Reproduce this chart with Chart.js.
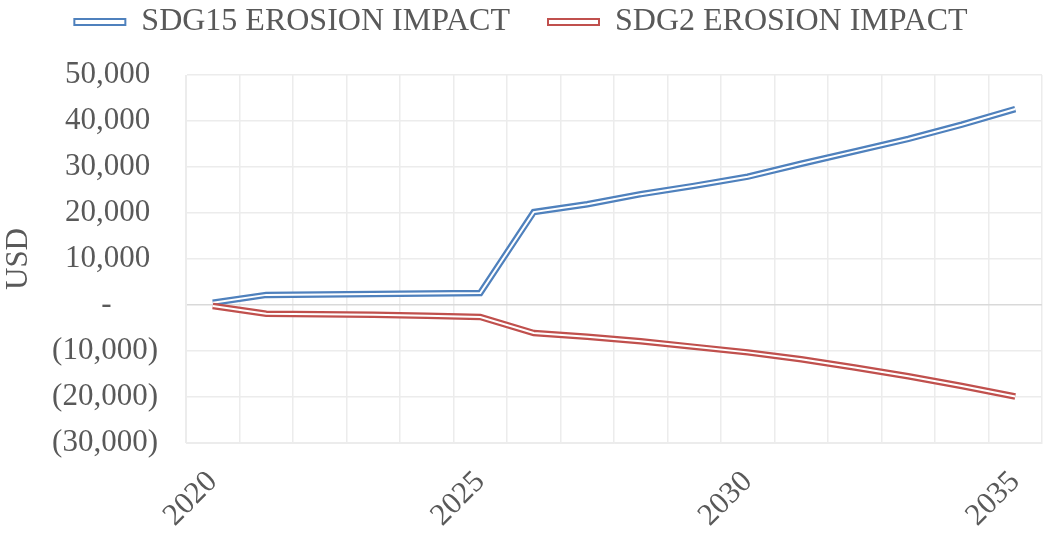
<!DOCTYPE html>
<html>
<head>
<meta charset="utf-8">
<script src="https://cdn.jsdelivr.net/npm/chart.js@4"></script>
<style>
  html, body { margin: 0; padding: 0; background: #fff; }
  #wrap { width: 1045px; height: 534px; }
</style>
</head>
<body>
<div id="wrap"><canvas id="chart"></canvas></div>
<script>
// Data
const years = ['2020','2021','2022','2023','2024','2025','2026','2027','2028','2029','2030','2031','2032','2033','2034','2035'];
const sdg15 = [500, 2200, 2300, 2400, 2500, 2600, 20200, 21900, 24100, 25900, 27900, 30700, 33400, 36100, 39200, 42600];
const sdg2 = [-200, -1900, -2000, -2100, -2350, -2600, -6100, -6900, -7900, -9100, -10300, -11800, -13600, -15500, -17600, -19900];
const shownYears = ['2020', '2025', '2030', '2035'];

const blue = '#4f81bd';
const red = '#c0504d';
const textColor = '#595959';
const fontFamily = '"Liberation Serif", "Times New Roman", serif';

function fmt(v) {
    if (v === 0) return '-      ';
    const s = Math.abs(v).toLocaleString('en-US');
    return v < 0 ? '(' + s + ')' : s + ' ';
}

// each series is drawn twice: a wide coloured line, then a thin white one on top -> double line
function doubleLine(label, data, color, order) {
    return [
        { label: label, data: data, borderColor: color, backgroundColor: '#fff',
          borderWidth: 6.5, pointRadius: 0, tension: 0, order: order + 1 },
        { label: '_inner', data: data, borderColor: '#fff',
          borderWidth: 2, pointRadius: 0, tension: 0, order: order }
    ];
}

// extra room under the legend
const legendGap = {
    id: 'legendGap',
    beforeInit(chart) {
        const fit = chart.legend.fit;
        chart.legend.fit = function() {
            fit.bind(chart.legend)();
            this.height += 27;
        };
    }
};

const ctx = document.getElementById('chart').getContext('2d');
new Chart(ctx, {
    type: 'line',
    data: {
        labels: years,
        datasets: [
            ...doubleLine('SDG15 EROSION IMPACT', sdg15, blue, 2),
            ...doubleLine('SDG2 EROSION IMPACT', sdg2, red, 0)
        ]
    },
    plugins: [legendGap],
    options: {
        responsive: true,
        maintainAspectRatio: false,
        animation: false,
        layout: { padding: { left: 0, right: 3, top: 0, bottom: 0 } },
        plugins: {
            tooltip: { enabled: false },
            legend: {
                position: 'top',
                labels: {
                    color: textColor,
                    font: { family: fontFamily, size: 32 },
                    boxWidth: 51,
                    boxHeight: 6,
                    padding: 6,
                    generateLabels: chart => chart.data.datasets
                        .map((ds, i) => ({
                            text: i === 0 ? ds.label + '    ' : ds.label,
                            fillStyle: '#fff',
                            strokeStyle: ds.borderColor,
                            lineWidth: 2,
                            fontColor: textColor,
                            datasetIndex: i
                        }))
                        .filter(item => item.text !== '_inner')
                }
            }
        },
        scales: {
            x: {
                offset: true,
                grid: { offset: true, color: '#ececec', lineWidth: 1.5, drawTicks: false },
                border: { color: '#ececec' },
                afterFit: scale => {
                    scale.height = 91;
                    scale.paddingLeft = 0;
                    scale.paddingRight = 0;
                },
                ticks: {
                    autoSkip: false,
                    minRotation: 45,
                    maxRotation: 45,
                    color: textColor,
                    padding: 21,
                    font: { family: fontFamily, size: 31 },
                    callback: function(value) {
                        const lab = this.getLabelForValue(value);
                        return shownYears.includes(lab) ? lab : '';
                    }
                }
            },
            y: {
                min: -30000,
                max: 50000,
                afterFit: scale => { scale.width = 186; },
                grid: {
                    drawTicks: false,
                    lineWidth: 1.5,
                    color: c => c.tick.value === 0 ? '#d9d9d9' : '#ececec'
                },
                border: { color: '#ececec' },
                ticks: {
                    stepSize: 10000,
                    color: textColor,
                    padding: 28,
                    font: { family: fontFamily, size: 31 },
                    callback: v => fmt(v)
                },
                title: {
                    display: true,
                    text: 'USD',
                    color: textColor,
                    padding: { top: 0, bottom: 12 },
                    font: { family: fontFamily, size: 31 }
                }
            }
        }
    }
});
</script>
</body>
</html>
